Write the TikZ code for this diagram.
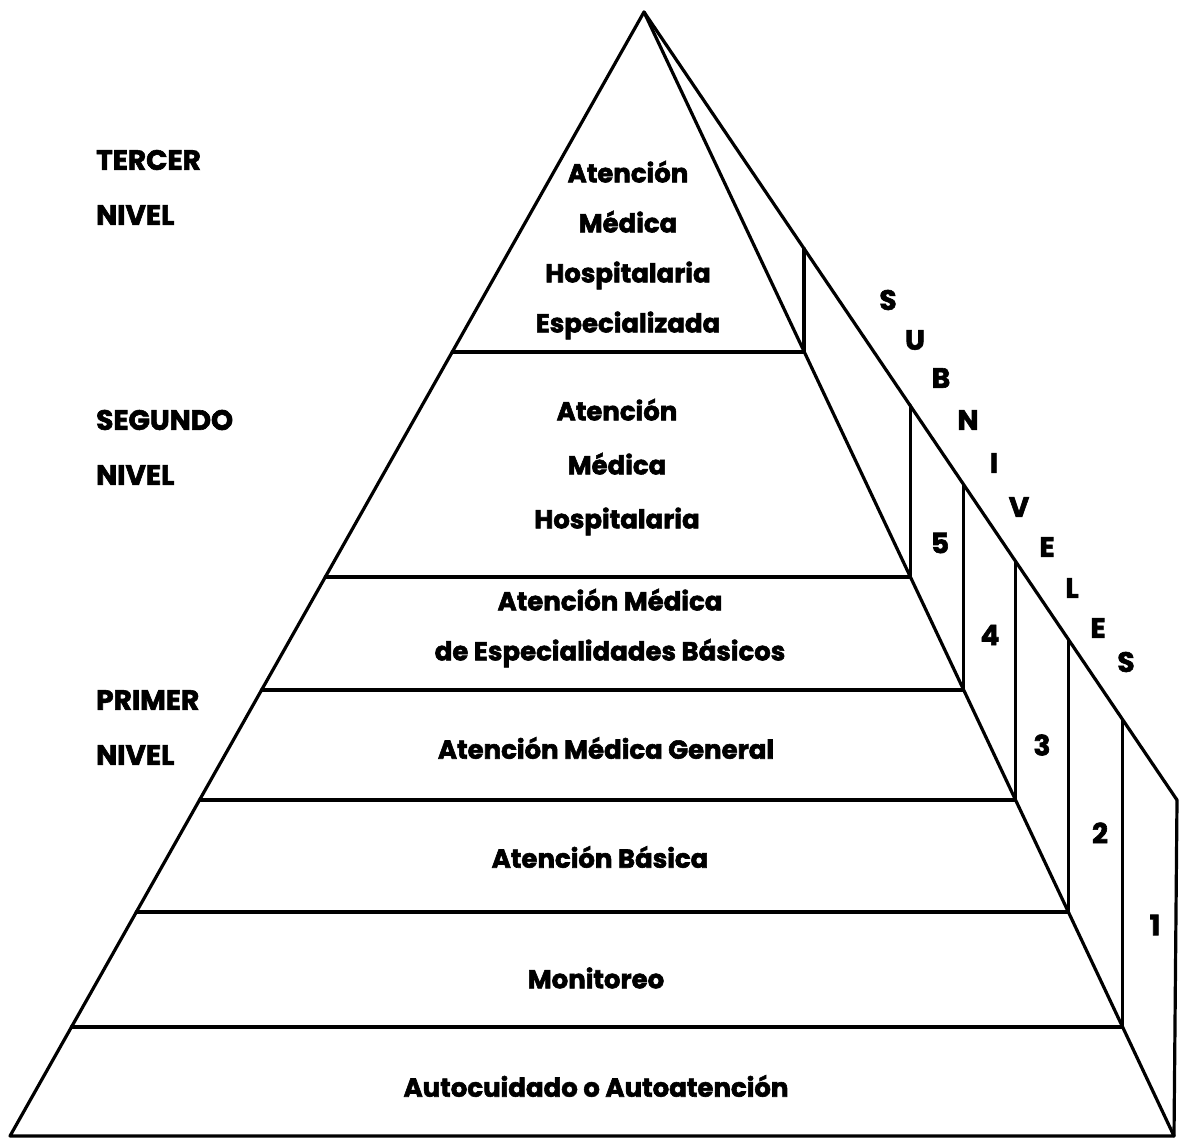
\documentclass[tikz,border=0pt]{standalone}
\usepackage{fontspec}
\setmainfont{Poppins}[BoldFeatures={FakeBold=2.2}]
\begin{document}
\begin{tikzpicture}[x=1pt,y=-1pt,
  edge/.style={line width=3.2pt,line cap=round,line join=round},
  lvl/.style={font=\fontsize{26}{30}\selectfont\bfseries,anchor=center,inner sep=0pt},
  side/.style={font=\fontsize{28}{32}\selectfont\bfseries,anchor=west,inner sep=0pt},
  num/.style={font=\fontsize{28}{32}\selectfont\bfseries,inner sep=0pt}]
\useasboundingbox (0,0) rectangle (1180,1139);
% outline of the pyramid
\coordinate (apex) at (644,12);
\coordinate (bl) at (10,1136);
\coordinate (br) at (1174,1136);
\coordinate (orb) at (1177,800);
% level boundaries: left end, front-right end, top of the side panel post
\foreach \n/\y/\xl/\xr/\yt in {a/352/452.2/804.0/248.5,
                                b/577/325.3/910.4/405.3,
                                c/690/261.5/963.7/484.6,
                                d/800/199.5/1015.5/561.2,
                                e/912/136.3/1068.4/639.4,
                                f/1027/71.4/1122.6/719.6}{
  \coordinate (L\n) at (\xl,\y);
  \coordinate (R\n) at (\xr,\y);
  \coordinate (T\n) at (\xr,\yt);
}
\draw[edge] (bl) -- (apex) -- (br) -- cycle;
\draw[edge] (apex) -- (orb) -- (br);
\foreach \n in {a,b,c,d,e,f}{
  \draw[edge] (L\n) -- (R\n) -- (T\n);
}
% level texts
\node[lvl,align=center] (t1) at (628,250) {Atención\\[20pt]Médica\\[20pt]Hospitalaria\\[20pt]Especializada};
\node[lvl,align=center] (t2) at (617,467) {Atención\\[24pt]Médica\\[24pt]Hospitalaria};
\node[lvl,align=center] (t3) at (610,628) {Atención Médica\\[20pt]de Especialidades Básicos};
\node[lvl] (t4) at (606,748) {Atención Médica General};
\node[lvl] (t5) at (600,857) {Atención Básica};
\node[lvl] (t6) at (596,978) {Monitoreo};
\node[lvl] (t7) at (596,1086) {Autocuidado o Autoatención};
% level names on the left
\node[side] (n3a) at (96,160) {TERCER};
\node[side] (n3b) at (96,215) {NIVEL};
\node[side] (n2a) at (96,420) {SEGUNDO};
\node[side] (n2b) at (96,475) {NIVEL};
\node[side] (n1a) at (96,700) {PRIMER};
\node[side] (n1b) at (96,755) {NIVEL};
% sublevel numbers
\node[num] (s5) at (940,543) {5};
\node[num] (s4) at (990,635) {4};
\node[num] (s3) at (1042,745) {3};
\node[num] (s2) at (1100,833) {2};
\node[num] (s1) at (1155,925) {1};
% SUBNIVELES along the outer edge
\foreach \c/\x/\y [count=\i] in {S/888/300,U/915/340,B/941/378,N/968/420,I/994/463,
                                 V/1019/507,E/1047/547,L/1072/588,E/1098/628,S/1126/662}{
  \node[num] (sub\i) at (\x,\y) {\c};
}
\end{tikzpicture}
\end{document}
